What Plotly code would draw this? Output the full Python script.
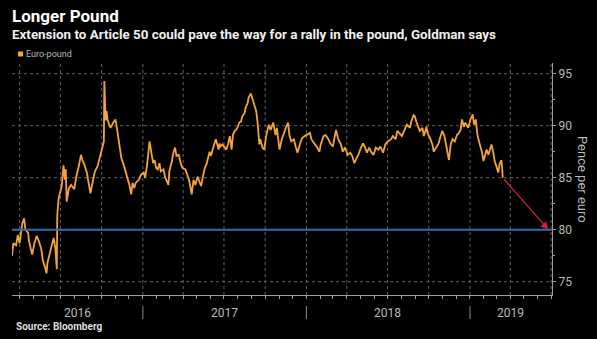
import plotly.graph_objects as go
import pandas as pd

# Euro-pound exchange rate, pence per euro
dates = [
    "2016-03-15", "2016-03-18", "2016-03-24", "2016-03-28", "2016-04-01", "2016-04-07",
    "2016-04-11", "2016-04-14", "2016-04-20", "2016-04-22", "2016-04-29", "2016-05-04",
    "2016-05-09", "2016-05-13", "2016-05-19", "2016-05-23", "2016-05-27", "2016-05-31",
    "2016-06-02", "2016-06-07", "2016-06-13", "2016-06-16", "2016-06-20", "2016-06-23",
    "2016-06-24", "2016-06-27", "2016-07-01", "2016-07-04", "2016-07-08", "2016-07-11",
    "2016-07-13", "2016-07-15", "2016-07-20", "2016-07-25", "2016-08-01", "2016-08-05",
    "2016-08-11", "2016-08-16", "2016-08-19", "2016-08-23", "2016-08-29", "2016-09-02",
    "2016-09-06", "2016-09-12", "2016-09-16", "2016-09-22", "2016-09-28", "2016-10-04",
    "2016-10-06", "2016-10-07", "2016-10-10", "2016-10-12", "2016-10-14", "2016-10-18",
    "2016-10-21", "2016-10-27", "2016-11-01", "2016-11-04", "2016-11-08", "2016-11-11",
    "2016-11-14", "2016-11-18", "2016-11-22", "2016-11-25", "2016-11-29", "2016-12-02",
    "2016-12-06", "2016-12-09", "2016-12-13", "2016-12-16", "2016-12-23", "2016-12-28",
    "2017-01-03", "2017-01-06", "2017-01-10", "2017-01-13", "2017-01-16", "2017-01-20",
    "2017-01-24", "2017-01-27", "2017-01-31", "2017-02-03", "2017-02-07", "2017-02-10",
    "2017-02-16", "2017-02-20", "2017-02-27", "2017-03-01", "2017-03-07", "2017-03-10",
    "2017-03-14", "2017-03-17", "2017-03-22", "2017-03-27", "2017-03-31", "2017-04-06",
    "2017-04-11", "2017-04-14", "2017-04-18", "2017-04-20", "2017-04-24", "2017-04-28",
    "2017-05-03", "2017-05-08", "2017-05-11", "2017-05-15", "2017-05-19", "2017-05-23",
    "2017-05-26", "2017-05-30", "2017-06-02", "2017-06-06", "2017-06-09", "2017-06-13",
    "2017-06-19", "2017-06-21", "2017-06-23", "2017-06-28", "2017-07-03", "2017-07-06",
    "2017-07-10", "2017-07-14", "2017-07-18", "2017-07-21", "2017-07-25", "2017-07-28",
    "2017-08-01", "2017-08-04", "2017-08-08", "2017-08-11", "2017-08-16", "2017-08-18",
    "2017-08-23", "2017-08-25", "2017-08-30", "2017-09-04", "2017-09-07", "2017-09-11",
    "2017-09-14", "2017-09-18", "2017-09-20", "2017-09-25", "2017-09-29", "2017-10-03",
    "2017-10-09", "2017-10-13", "2017-10-19", "2017-10-24", "2017-10-27", "2017-10-31",
    "2017-11-02", "2017-11-07", "2017-11-13", "2017-11-17", "2017-11-21", "2017-11-24",
    "2017-11-28", "2017-12-04", "2017-12-08", "2017-12-12", "2017-12-18", "2017-12-22",
    "2017-12-28", "2018-01-02", "2018-01-09", "2018-01-12", "2018-01-19", "2018-01-25",
    "2018-01-30", "2018-02-02", "2018-02-08", "2018-02-13", "2018-02-19", "2018-02-23",
    "2018-03-01", "2018-03-05", "2018-03-08", "2018-03-13", "2018-03-19", "2018-03-23",
    "2018-03-28", "2018-04-03", "2018-04-09", "2018-04-13", "2018-04-18", "2018-04-23",
    "2018-04-26", "2018-05-01", "2018-05-07", "2018-05-11", "2018-05-16", "2018-05-21",
    "2018-05-25", "2018-05-31", "2018-06-05", "2018-06-11", "2018-06-15", "2018-06-21",
    "2018-06-26", "2018-07-02", "2018-07-09", "2018-07-13", "2018-07-19", "2018-07-23",
    "2018-07-27", "2018-08-02", "2018-08-08", "2018-08-13", "2018-08-20", "2018-08-23",
    "2018-08-28", "2018-08-31", "2018-09-03", "2018-09-07", "2018-09-11", "2018-09-17",
    "2018-09-20", "2018-09-26", "2018-09-28", "2018-10-04", "2018-10-09", "2018-10-12",
    "2018-10-18", "2018-10-23", "2018-10-26", "2018-10-31", "2018-11-05", "2018-11-09",
    "2018-11-13", "2018-11-15", "2018-11-19", "2018-11-23", "2018-11-28", "2018-12-03",
    "2018-12-07", "2018-12-11", "2018-12-14", "2018-12-19", "2018-12-21", "2018-12-28",
    "2019-01-02", "2019-01-07", "2019-01-10", "2019-01-14", "2019-01-16", "2019-01-18",
    "2019-01-23", "2019-01-28", "2019-01-31", "2019-02-04", "2019-02-07", "2019-02-11",
    "2019-02-14", "2019-02-18", "2019-02-22", "2019-02-25", "2019-03-01", "2019-03-05",
    "2019-03-08", "2019-03-12", "2019-03-14", "2019-03-15",
]
eur_gbp = [
    77.5, 78.7, 78.5, 79.5, 78.7, 80.6,
    81.1, 80.0, 79.7, 78.9, 77.6, 78.7,
    79.4, 79.0, 78.2, 77.0, 76.5, 75.8,
    76.8, 77.8, 78.7, 79.2, 78.1, 76.2,
    81.4, 83.0, 83.8, 84.2, 86.2, 84.8,
    85.8, 82.7, 84.0, 84.3, 83.9, 85.0,
    86.1, 87.2, 86.7, 86.3, 85.5, 84.3,
    83.5, 84.8, 85.6, 86.1, 87.1, 87.9,
    88.5, 94.3, 90.5, 91.4, 90.6, 90.1,
    89.8, 90.3, 90.6, 89.8, 88.8, 87.7,
    86.9, 86.4, 85.8, 85.5, 85.0, 84.3,
    83.4, 84.5, 84.0, 84.5, 84.8, 85.3,
    85.5, 85.0, 86.1, 87.5, 88.5, 87.4,
    86.4, 86.7, 85.9, 85.8, 86.4, 85.6,
    85.8, 85.0, 84.3, 85.6, 86.6, 87.4,
    87.9, 87.1, 87.2, 86.3, 85.9, 85.8,
    85.1, 84.8, 83.9, 83.4, 84.8, 84.3,
    85.1, 84.5, 84.2, 85.1, 85.9, 86.3,
    86.9, 87.5, 87.1, 87.9, 88.2, 88.7,
    87.7, 88.3, 88.0, 88.2, 87.9, 87.7,
    88.2, 89.0, 87.7, 89.1, 89.5, 89.6,
    89.9, 90.3, 90.4, 90.9, 91.2, 91.7,
    92.2, 92.7, 93.1, 92.3, 92.0, 91.4,
    90.3, 88.2, 88.7, 87.9, 87.7, 89.0,
    90.1, 89.6, 90.3, 89.1, 89.8, 88.0,
    87.7, 88.7, 89.5, 89.9, 90.3, 89.1,
    88.5, 88.7, 88.0, 87.4, 88.3, 88.8,
    89.0, 89.1, 89.3, 88.7, 88.3, 87.9,
    87.5, 88.2, 89.0, 89.1, 88.7, 88.3,
    88.0, 89.0, 89.6, 88.7, 88.2, 87.5,
    87.9, 87.2, 87.4, 87.1, 86.4, 86.9,
    87.1, 87.7, 88.3, 88.0, 87.4, 87.9,
    87.5, 87.2, 87.9, 87.7, 88.0, 87.4,
    88.2, 88.5, 88.7, 89.0, 88.7, 89.5,
    89.3, 89.0, 89.6, 90.1, 89.8, 90.4,
    91.0, 90.9, 90.4, 89.9, 89.5, 89.8,
    89.0, 89.9, 89.3, 88.8, 88.2, 87.5,
    87.9, 88.3, 88.8, 89.5, 89.0, 88.2,
    87.4, 86.7, 88.2, 88.7, 88.5, 89.1,
    89.3, 89.6, 90.6, 89.9, 90.3, 89.8,
    90.6, 91.1, 90.1, 90.6, 89.8, 89.0,
    88.2, 87.4, 86.6, 87.4, 87.7, 87.2,
    87.7, 88.2, 87.4, 86.6, 86.1, 85.5,
    86.3, 86.7, 85.8, 85.0,
]

series_name = "Euro-pound"
target_level = 80          # level the pound could rally to
target_date = "2019-06-25"
x_start, x_end = "2016-03-15", "2019-07-03"
y_ticks = [75, 80, 85, 90, 95]
years = ["2016", "2017", "2018", "2019"]

# colours
BG = "#000000"
ORANGE = "#f2a33c"
BLUE = "#2f6db3"
RED = "#cf1d3c"
GRID = "#606060"
AXIS = "#9c9c9c"
TEXT = "#bababa"
FONT = "Roboto, 'Open Sans', Arial, sans-serif"

# page geometry
W, H = 597, 339
L, R, T, B = 12, 45, 63, 44
PW, PH = W - L - R, H - T - B


def paper_x(px):
    return (px - L) / PW


def paper_y(py):
    return (H - B - py) / PH


fig = go.Figure()

# dotted grid: quarter starts and the labelled price levels
quarter_starts = pd.date_range("2016-01-01", x_end, freq="QS")
quarter_starts = [d for d in quarter_starts if pd.Timestamp(x_start) < d < pd.Timestamp(x_end)]
shapes = []
for d in quarter_starts:
    s = d.strftime("%Y-%m-%d")
    shapes.append(dict(type="line", xref="x", yref="paper", x0=s, x1=s, y0=0, y1=1,
                       layer="below", line=dict(color=GRID, width=1, dash="dot")))
for v in y_ticks:
    shapes.append(dict(type="line", xref="paper", yref="y", x0=0, x1=1, y0=v, y1=v,
                       layer="below", line=dict(color=GRID, width=1, dash="dot")))

fig.add_trace(go.Scatter(
    x=dates, y=eur_gbp, mode="lines", name=series_name,
    line=dict(color=ORANGE, width=1.8), showlegend=False,
))

shapes += [
    # target level
    dict(type="line", xref="paper", x0=0, x1=1, yref="y",
         y0=target_level, y1=target_level, line=dict(color=BLUE, width=2)),
    # legend swatch
    dict(type="rect", xref="paper", yref="paper",
         x0=paper_x(18), x1=paper_x(23), y0=paper_y(56.5), y1=paper_y(51.5),
         fillcolor=ORANGE, line=dict(width=0)),
]

annotations = [
    dict(text="<b>Longer Pound</b>", xref="paper", yref="paper",
         x=paper_x(10), y=paper_y(16), xanchor="left", yanchor="middle",
         showarrow=False, font=dict(family=FONT, size=17, color="#ffffff")),
    dict(text="<b>Extension to Article 50 could pave the way for a rally in the pound, Goldman says</b>",
         xref="paper", yref="paper", x=paper_x(10), y=paper_y(34),
         xanchor="left", yanchor="middle", showarrow=False,
         font=dict(family=FONT, size=13.4, color="#f0f0f0")),
    dict(text=series_name, xref="paper", yref="paper", x=paper_x(23.5), y=paper_y(54),
         xanchor="left", yanchor="middle", showarrow=False,
         font=dict(family=FONT, size=9, color=TEXT)),
    dict(text="<b>Source: Bloomberg</b>", xref="paper", yref="paper",
         x=paper_x(14), y=paper_y(326), xanchor="left", yanchor="middle",
         showarrow=False, font=dict(family=FONT, size=10, color="#dddddd")),
    dict(text="Pence per euro", xref="paper", yref="paper", textangle=90,
         x=paper_x(583), y=paper_y(179), xanchor="center", yanchor="middle",
         showarrow=False, font=dict(family=FONT, size=13, color=TEXT)),
    # projected move down to the target level
    dict(x=target_date, y=target_level, ax=dates[-1], ay=eur_gbp[-1],
         xref="x", yref="y", axref="x", ayref="y", text="", showarrow=True,
         arrowhead=2, arrowsize=1.2, arrowwidth=1.3, arrowcolor=RED),
]

# year labels centred in the visible part of each year, separators at year starts
lo, hi = pd.Timestamp(x_start), pd.Timestamp(x_end)
for yr in years:
    a = max(lo, pd.Timestamp(f"{yr}-01-01"))
    b = min(hi, pd.Timestamp(f"{int(yr) + 1}-01-01"))
    mid = a + (b - a) / 2
    annotations.append(dict(
        text=yr, x=mid.strftime("%Y-%m-%d"), xref="x", y=paper_y(313), yref="paper",
        xanchor="center", yanchor="middle", showarrow=False,
        font=dict(family=FONT, size=12, color=TEXT)))
    start = pd.Timestamp(f"{yr}-01-01")
    if lo < start < hi:
        shapes.append(dict(type="line", xref="x", yref="paper",
                           x0=start.strftime("%Y-%m-%d"), x1=start.strftime("%Y-%m-%d"),
                           y0=paper_y(306), y1=paper_y(319),
                           line=dict(color="#8a8a8a", width=1)))

fig.update_layout(
    width=W, height=H, margin=dict(l=L, r=R, t=T, b=B),
    paper_bgcolor=BG, plot_bgcolor=BG,
    font=dict(family=FONT, color=TEXT),
    shapes=shapes, annotations=annotations,
    xaxis=dict(
        type="date", range=[x_start, x_end],
        showline=True, linecolor=AXIS, linewidth=1,
        ticks="outside", tickcolor=AXIS, ticklen=3,
        dtick="M3", tick0="2016-01-01", showticklabels=False,
        showgrid=False,
        minor=dict(dtick="M1", tick0="2016-01-01", ticks="outside",
                   ticklen=3, tickcolor=AXIS, showgrid=False),
        zeroline=False,
    ),
    yaxis=dict(
        side="right", range=[73.72, 96.03], tickvals=y_ticks,
        showline=True, linecolor=AXIS, linewidth=1,
        ticks="outside", tickcolor=AXIS, ticklen=3,
        tickfont=dict(family=FONT, size=12, color=TEXT),
        showgrid=False,
        minor=dict(dtick=2.5, tick0=75, ticks="outside", ticklen=2,
                   tickcolor=AXIS, showgrid=False),
        zeroline=False,
    ),
)

fig.write_html("out.html")
